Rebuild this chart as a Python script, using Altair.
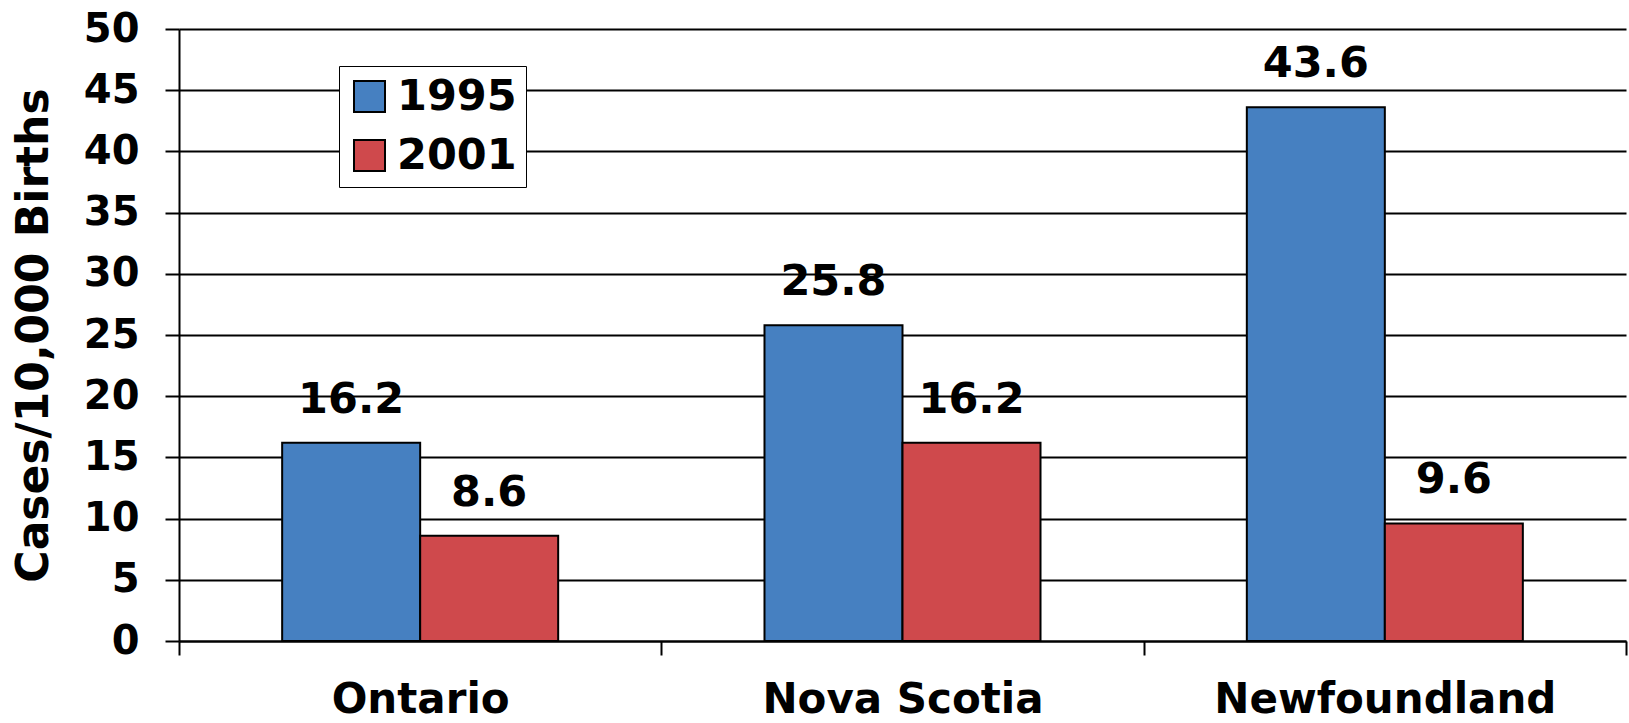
import altair as alt
import pandas as pd

provinces = ["Ontario", "Nova Scotia", "Newfoundland"]
years = ["1995", "2001"]
values_1995 = [16.2, 25.8, 43.6]
values_2001 = [8.6, 16.2, 9.6]
colors = ["#4680C1", "#CF494C"]
y_ticks = [0, 5, 10, 15, 20, 25, 30, 35, 40, 45, 50]

rows = []
for p, v in zip(provinces, values_1995):
    rows.append({"province": p, "year": "1995", "value": v})
for p, v in zip(provinces, values_2001):
    rows.append({"province": p, "year": "2001", "value": v})
df = pd.DataFrame(rows)

FONT = "DejaVu Sans"

x = alt.X(
    "province:N",
    sort=provinces,
    title=None,
    scale=alt.Scale(paddingInner=0, paddingOuter=0),
    axis=alt.Axis(
        labelAngle=0,
        labelFont=FONT,
        labelFontWeight="bold",
        labelFontSize=42,
        labelColor="black",
        labelPadding=24,
        labelLimit=1000,
        tickBand="extent",
        tickSize=14,
        tickColor="black",
        tickWidth=2,
        domainColor="black",
        domainWidth=2,
        grid=False,
    ),
)
xoff = alt.XOffset(
    "year:N",
    sort=years,
    scale=alt.Scale(paddingInner=0, paddingOuter=0.7475),
)
y = alt.Y(
    "value:Q",
    scale=alt.Scale(domain=[0, 50], nice=False),
    axis=alt.Axis(
        values=y_ticks,
        title="Cases/10,000 Births",
        titleFont=FONT,
        titleFontWeight="bold",
        titleFontSize=44,
        titleColor="black",
        titleAngle=270,
        titleX=-132,
        titleY=306,
        titleAlign="center",
        titleBaseline="alphabetic",
        labelFont=FONT,
        labelFontWeight="bold",
        labelFontSize=40,
        labelColor="black",
        labelPadding=26,
        tickSize=14,
        tickColor="black",
        tickWidth=2,
        domainColor="black",
        domainWidth=2,
        grid=True,
        gridColor="black",
        gridWidth=2,
        gridOpacity=1,
    ),
)
color = alt.Color(
    "year:N",
    sort=years,
    title=None,
    scale=alt.Scale(domain=years, range=colors),
    legend=alt.Legend(
        orient="none",
        legendX=160,
        legendY=37,
        direction="vertical",
        fillColor="white",
        strokeColor="black",
        padding=9,
        rowPadding=15,
        symbolType="square",
        symbolSize=961,
        symbolStrokeColor="black",
        symbolStrokeWidth=2,
        symbolOpacity=1,
        labelFont=FONT,
        labelFontWeight="bold",
        labelFontSize=43,
        labelColor="black",
        labelOffset=6,
    ),
)

bars = alt.Chart(df).mark_bar(stroke="black", strokeWidth=2, opacity=1).encode(
    x=x, xOffset=xoff, y=y, color=color
)
labels = alt.Chart(df).mark_text(
    font=FONT, fontWeight="bold", fontSize=43, color="black",
    baseline="alphabetic", align="center", dy=-30,
).encode(x=x, xOffset=xoff, y=y, text=alt.Text("value:Q", format=".1f"))

chart = (
    alt.layer(bars, labels)
    .properties(
        width=1447,
        height=612,
        autosize=alt.AutoSizeParams(type="none"),
        padding={"left": 179, "top": 29, "right": 3, "bottom": 82},
        background="white",
    )
    .configure_view(strokeWidth=0)
)

chart.save("out.html", embed_options={"renderer": "svg", "actions": False})
